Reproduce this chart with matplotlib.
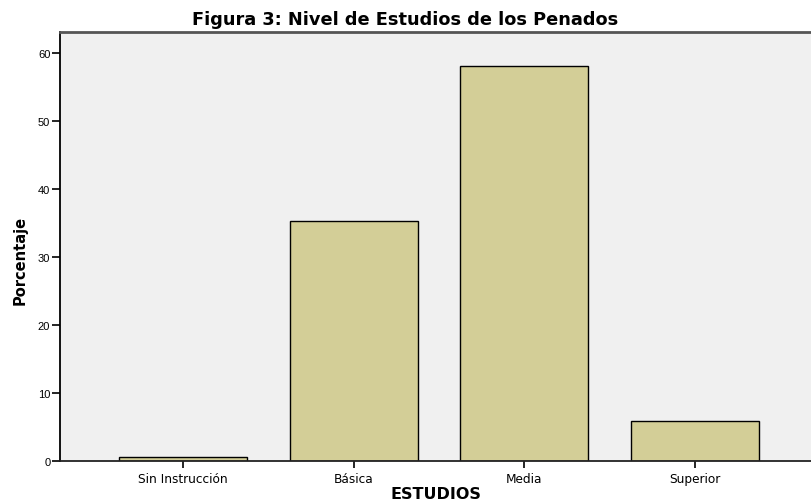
import numpy as np
import matplotlib.pyplot as plt

plt.rcParams['font.family'] = ['DejaVu Sans']

categorias = ['Sin Instrucción', 'Básica', 'Media', 'Superior']
porcentaje = [0.5, 35.3, 58.2, 5.9]
yticks = [0, 10, 20, 30, 40, 50, 60]

fig = plt.figure(figsize=(8.11, 5.02), dpi=100)
ax = fig.add_axes([0.074, 0.080, 0.926, 0.855])
ax.set_facecolor('#F0F0F0')

x = np.arange(len(categorias))
ax.bar(x, porcentaje, width=0.75, color='#D3CE97', edgecolor='black', linewidth=1)

ax.set_xlim(-0.72, 3.68)
ax.set_ylim(0, 63.2)
ax.set_xticks(x)
ax.set_xticklabels(categorias, fontsize=8.7)
ax.set_yticks(yticks)
ax.set_yticklabels([str(v) for v in yticks], fontsize=8, family=['Liberation Sans', 'DejaVu Sans'])
ax.tick_params(axis='y', length=6, width=1.2, pad=1)
ax.tick_params(axis='x', length=5, width=1.2, pad=3)

ax.spines['right'].set_visible(False)
ax.spines['top'].set_color('#555555')
ax.spines['top'].set_linewidth(2)
ax.spines['left'].set_linewidth(1.3)
ax.spines['bottom'].set_linewidth(1.3)
ax.spines['bottom'].set_color('#222222')

ax.set_xlabel('ESTUDIOS', fontsize=11.5, fontweight='bold', va='center')
ax.xaxis.set_label_coords(0.5, -0.075)
ax.set_ylabel('Porcentaje', fontsize=10.5, fontweight='bold', va='center')
ax.yaxis.set_label_coords(-0.053, 0.47)
fig.suptitle('Figura 3: Nivel de Estudios de los Penados', x=0.5, y=0.960,
             va='center', fontsize=12.8, fontweight='bold')

plt.savefig('out.png', dpi=100)
